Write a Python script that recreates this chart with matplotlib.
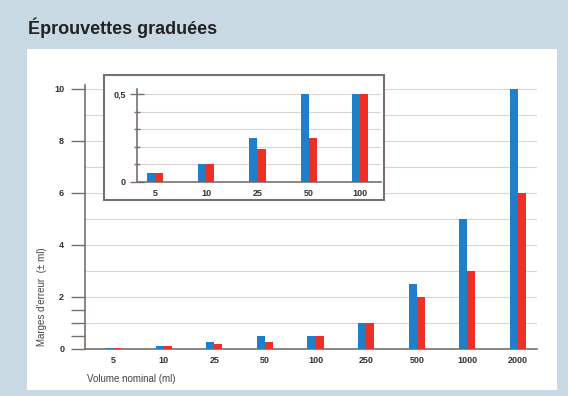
import matplotlib.pyplot as plt
from matplotlib.patches import Rectangle
import numpy as np

plt.rcParams['font.family'] = ['Liberation Sans', 'DejaVu Sans']

# data
volumes = ["5", "10", "25", "50", "100", "250", "500", "1000", "2000"]
classe_a = [0.05, 0.1, 0.25, 0.5, 0.5, 1, 2.5, 5, 10]
classe_b = [0.05, 0.1, 0.19, 0.25, 0.5, 1, 2, 3, 6]

zoom_volumes = ["5", "10", "25", "50", "100"]
zoom_a = [0.05, 0.1, 0.25, 0.5, 0.5]
zoom_b = [0.05, 0.1, 0.19, 0.25, 0.5]

blue = "#1f7fc9"
red = "#ec3026"
spine_col = "#7a706b"
grid_col = "#dcd5cf"
txt = "#333333"

W, H = 568, 396
fig = plt.figure(figsize=(W / 100, H / 100), dpi=100)
fig.patch.set_facecolor("#c9d9e4")

def fx(px):
    return px / W

def fy(py):
    return 1 - py / H

# white panel
fig.patches.append(Rectangle((fx(27), fy(390)), fx(557) - fx(27), fy(49) - fy(390),
                             transform=fig.transFigure, facecolor="white", edgecolor="none", zorder=-5))

fig.text(fx(28), fy(34), "Éprouvettes graduées", fontsize=13, fontweight="bold",
         color="#222222", ha="left", va="baseline")

# main chart
ax = fig.add_axes([fx(85), fy(349), fx(537) - fx(85), fy(85) - fy(349)], zorder=1)
ax.set_facecolor("none")
x = np.arange(len(volumes))
bw = 0.16
ax.bar(x - bw / 2, classe_a, bw, color=blue, zorder=3)
ax.bar(x + bw / 2, classe_b, bw, color=red, zorder=3)
ax.set_xlim(-0.553, 8.375)
ax.set_ylim(0, 10.15)
ax.set_xticks(x)
ax.set_xticklabels(volumes, fontsize=6.5, fontweight="bold", color=txt)
ax.tick_params(axis="x", length=0, pad=5)
ax.set_yticks([0, 2, 4, 6, 8, 10])
ax.set_yticklabels(["0", "2", "4", "6", "8", "10"], fontsize=6.5, fontweight="bold", color=txt)
ax.set_yticks([0.5, 1, 1.5], minor=True)
ax.tick_params(axis="y", which="both", length=10, width=1, color=spine_col, pad=5)
for g in range(1, 11):
    ax.axhline(g, color=grid_col, lw=0.8, zorder=1)
for s in ["top", "right"]:
    ax.spines[s].set_visible(False)
for s in ["left", "bottom"]:
    ax.spines[s].set_color(spine_col)
    ax.spines[s].set_linewidth(1.2)

fig.text(fx(42), fy(297), "Marges d'erreur  (± ml)", rotation=90, fontsize=7,
         color="#444444", ha="center", va="center")
fig.text(fx(87), fy(379), "Volume nominal (ml)", fontsize=7, color="#444444",
         ha="left", va="center")

# inset frame
fig.patches.append(Rectangle((fx(104), fy(200)), fx(384) - fx(104), fy(75) - fy(200),
                             transform=fig.transFigure, facecolor="white",
                             edgecolor=spine_col, linewidth=1.5, zorder=5))

ins = fig.add_axes([fx(137), fy(182), fx(381) - fx(137), fy(89) - fy(182)], zorder=6)
ins.set_facecolor("none")
xi = np.arange(len(zoom_volumes))
ins.bar(xi - bw / 2, zoom_a, bw, color=blue, zorder=3)
ins.bar(xi + bw / 2, zoom_b, bw, color=red, zorder=3)
ins.set_xlim(-0.35, 4.41)
ins.set_ylim(0, 0.528)
ins.set_xticks(xi)
ins.set_xticklabels(zoom_volumes, fontsize=6.5, fontweight="bold", color=txt)
ins.tick_params(axis="x", length=0, pad=5)
ins.set_yticks([0, 0.5])
ins.set_yticklabels(["0", "0,5"], fontsize=6.5, fontweight="bold", color=txt)
ins.set_yticks([0.1, 0.2, 0.3, 0.4], minor=True)
ins.tick_params(axis="y", which="major", direction="inout", length=10, width=1, color=spine_col, pad=3)
ins.tick_params(axis="y", which="minor", direction="inout", length=5, width=1, color=spine_col)
for g in [0.1, 0.2, 0.3, 0.4, 0.5]:
    ins.axhline(g, color=grid_col, lw=0.8, zorder=1)
for s in ["top", "right"]:
    ins.spines[s].set_visible(False)
for s in ["left", "bottom"]:
    ins.spines[s].set_color(spine_col)
    ins.spines[s].set_linewidth(1.2)

fig.savefig("out.png", dpi=100, facecolor=fig.get_facecolor())
